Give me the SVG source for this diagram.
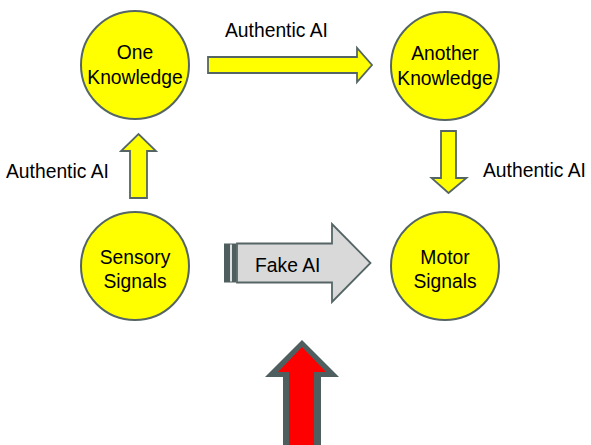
<svg xmlns="http://www.w3.org/2000/svg" width="591" height="445" viewBox="0 0 591 445">
<style>
.node{fill:#ffff00;stroke:#556565;stroke-width:2}
.t{font-family:"Liberation Sans",Arial,sans-serif;font-size:19.3px;fill:#000}
.ya{fill:#ffff00;stroke:#556565;stroke-width:1.8;stroke-linejoin:miter}
</style>
<rect width="591" height="445" fill="#fff"/>
<g id="one-knowledge">
<circle class="node" cx="135" cy="65" r="54"/>
<text class="t" x="135" y="59" text-anchor="middle">One</text>
<text class="t" x="135" y="84" text-anchor="middle">Knowledge</text>
</g>
<g id="another-knowledge">
<circle class="node" cx="445" cy="66" r="54"/>
<text class="t" x="445" y="60" text-anchor="middle">Another</text>
<text class="t" x="445" y="85" text-anchor="middle">Knowledge</text>
</g>
<g id="sensory-signals">
<circle class="node" cx="135" cy="266" r="54"/>
<text class="t" x="135" y="264" text-anchor="middle">Sensory</text>
<text class="t" x="135" y="288" text-anchor="middle">Signals</text>
</g>
<g id="motor-signals">
<circle class="node" cx="445" cy="266" r="54"/>
<text class="t" x="445" y="264" text-anchor="middle">Motor</text>
<text class="t" x="445" y="288" text-anchor="middle">Signals</text>
</g>
<g id="connectors">
<path class="ya" d="M208,57 H357 V48 L372,65 L357,82 V73 H208 Z"/>
<text class="t" x="225" y="37">Authentic AI</text>
<path class="ya" d="M130,198 V151 H121 L138.5,134 L156,151 H147 V198 Z"/>
<text class="t" x="6" y="178">Authentic AI</text>
<path class="ya" d="M441,131 H456 V178 H466.5 L448.5,193 L431.5,178 H441 Z"/>
<text class="t" x="483" y="177">Authentic AI</text>
<g id="fake-ai">
<rect x="224" y="243.5" width="12.5" height="39" fill="#4f5f5f"/>
<rect x="230" y="244.5" width="2" height="37" fill="#e0e0e0"/>
<path d="M237,243.5 H332 V224 L370.5,263 L332,302 V282.5 H237 Z" fill="#d9d9d9" stroke="#556565" stroke-width="1.8"/>
<text class="t" x="255" y="272">Fake AI</text>
</g>
<g id="red-arrow">
<path d="M283,446 V377 H265 L302,340 L339,377 H321 V446 Z" fill="#4f5f5f"/>
<path d="M289,446 V372 H278 L302,347 L326,372 H314 V446 Z" fill="#ff0000"/>
</g>
</g>
</svg>
